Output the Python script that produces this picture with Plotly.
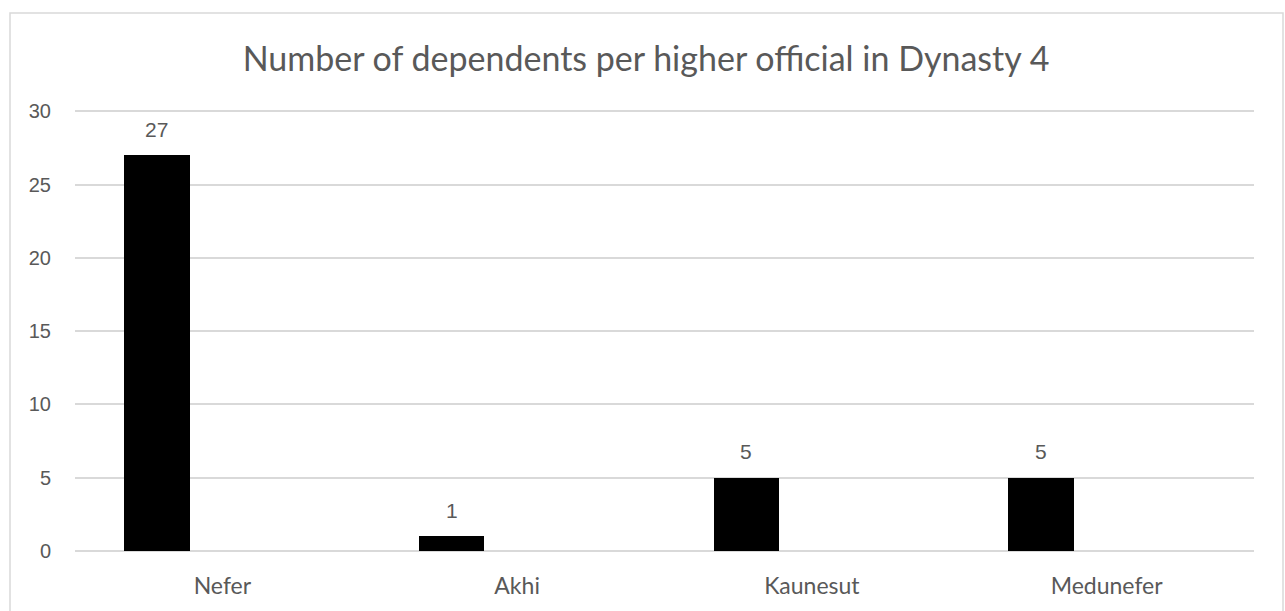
import plotly.graph_objects as go

# Dependents attributed to each Dynasty 4 official
officials = ["Nefer", "Akhi", "Kaunesut", "Medunefer"]
dependents = [27, 1, 5, 5]
y_ticks = [0, 5, 10, 15, 20, 25, 30]

W, H = 1285, 611
M_L, M_R, M_T, M_B = 75, 31, 107, 60
Y_MAX = 30.3            # a little headroom so the 30 gridline is drawn
BAR_W = 0.2222          # bar width as a fraction of a category slot
BAR_OFF = -0.3333       # left edge of the bar relative to the slot centre

fig = go.Figure()
fig.add_trace(go.Bar(
    x=officials,
    y=dependents,
    width=BAR_W,
    offset=BAR_OFF,
    marker=dict(color="#000000", line=dict(width=0)),
    hoverinfo="x+y",
))

# Value labels floating above each bar
for i, v in enumerate(dependents):
    fig.add_annotation(
        x=i + BAR_OFF + BAR_W / 2, y=v, xref="x", yref="y",
        text=str(v), showarrow=False,
        yanchor="middle", yshift=26,
        font=dict(family="Liberation Sans, Arial, sans-serif", size=21, color="#595959"),
    )

# Light grey frame around the whole chart area
plot_w = W - M_L - M_R
plot_h = H - M_T - M_B
fig.add_shape(
    type="rect", xref="paper", yref="paper",
    x0=(10 - M_L) / plot_w, x1=(1283 - M_L) / plot_w,
    y0=(H - M_B - 640) / plot_h, y1=(H - M_B - 13) / plot_h,
    line=dict(color="#d9d9d9", width=1.5), fillcolor="rgba(0,0,0,0)",
    layer="below",
)

fig.update_layout(
    width=W, height=H,
    margin=dict(l=M_L, r=M_R, t=M_T, b=M_B),
    paper_bgcolor="white", plot_bgcolor="white",
    showlegend=False,
    title=dict(
        text="Number of dependents per higher official in Dynasty 4",
        x=(646 - M_L) / plot_w, xref="paper", xanchor="center",
        y=1 - 59 / H, yanchor="middle",
        font=dict(family="Lato, Carlito, Calibri, sans-serif", size=34, color="#595959"),
    ),
    xaxis=dict(
        type="category",
        range=[-0.5, len(officials) - 0.5],
        showgrid=False, showline=False, zeroline=False,
        ticks="", ticklabelstandoff=19,
        tickfont=dict(family="Lato, Carlito, Calibri, sans-serif", size=23, color="#595959"),
    ),
    yaxis=dict(
        range=[0, Y_MAX],
        tickvals=y_ticks,
        showgrid=True, gridcolor="#d9d9d9", gridwidth=1.5,
        zeroline=True, zerolinecolor="#d9d9d9", zerolinewidth=1.5,
        showline=False, ticks="",
        ticklabelstandoff=23,
        tickfont=dict(family="Liberation Sans, Arial, sans-serif", size=20, color="#595959"),
    ),
    bargap=0,
)

fig.write_html("out.html")
